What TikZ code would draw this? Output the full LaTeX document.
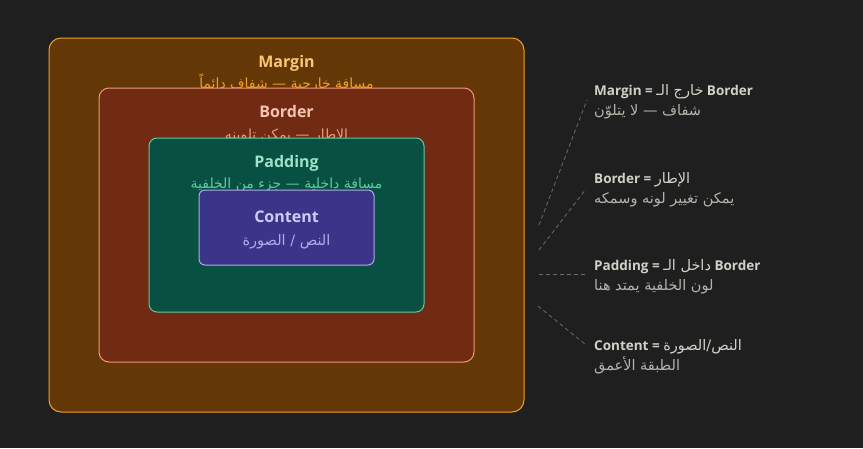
\documentclass[tikz,border=0pt]{standalone}
\usepackage{fontspec}
\setmainfont{Open Sans}
\newfontfamily\arabicfont[Script=Arabic]{DejaVu Sans}
\TeXXeTstate=1
\newcommand{\artext}[1]{{\arabicfont\beginR #1\endR}}
\definecolor{bg}{HTML}{1F1F1F}
\definecolor{mfill}{HTML}{633806}\definecolor{mline}{HTML}{EF9F27}\definecolor{mtitle}{HTML}{FAC775}
\definecolor{bfill}{HTML}{712B13}\definecolor{bline}{HTML}{F0997B}\definecolor{btitle}{HTML}{F5C4B3}
\definecolor{pfill}{HTML}{085041}\definecolor{pline}{HTML}{5DCAA5}\definecolor{ptitle}{HTML}{9FE1CB}
\definecolor{cfill}{HTML}{3C3489}\definecolor{cline}{HTML}{AFA9EC}\definecolor{ctitle}{HTML}{CECBF6}
\definecolor{lblone}{HTML}{D3D1C7}\definecolor{lbltwo}{HTML}{B4B2A9}\definecolor{dashc}{HTML}{6B6A66}
\tikzset{
  layer/.style={rectangle, draw, line width=1pt, inner sep=0pt},
  ttl/.style={anchor=base, inner sep=0pt, font=\fontsize{16}{19}\selectfont\bfseries},
  sub/.style={anchor=base, inner sep=0pt, font=\fontsize{14}{17}\selectfont},
  lab/.style={anchor=base west, inner sep=0pt, font=\fontsize{13.5}{16}\selectfont, text=lblone},
  labtwo/.style={anchor=base west, inner sep=0pt, font=\fontsize{14.5}{17}\selectfont, text=lbltwo},
  leader/.style={draw=dashc, line width=0.8pt, dash pattern=on 4pt off 3pt},
}
\begin{document}
\begin{tikzpicture}[x=1pt,y=-1pt]
\path[fill=bg,use as bounding box] (0,0) rectangle (863,448);
% margin
\node[layer, draw=mline, fill=mfill, rounded corners=12pt, minimum width=475pt, minimum height=374pt] (margin) at (286.5,225) {};
\node[ttl, text=mtitle] (mt) at (286.5,67.5) {Margin};
\node[sub, text=mline] (ms) at (286.5,88.5) {\artext{مسافة خارجية — شفاف دائماً}};
% border
\node[layer, draw=bline, fill=bfill, rounded corners=10pt, minimum width=375pt, minimum height=274pt] (border) at (286.5,225) {};
\node[ttl, text=btitle] (bt) at (286.5,117.5) {Border};
\node[sub, text=bline] (bs) at (286.5,139.5) {\artext{الإطار — يمكن تلوينه}};
% padding
\node[layer, draw=pline, fill=pfill, rounded corners=8pt, minimum width=275pt, minimum height=174pt] (padding) at (286.5,225) {};
\node[ttl, text=ptitle] (pt) at (286.5,167.5) {Padding};
\node[sub, text=pline] (ps) at (286.5,188.5) {\artext{مسافة داخلية — جزء من الخلفية}};
% content
\node[layer, draw=cline, fill=cfill, rounded corners=6pt, minimum width=175pt, minimum height=75pt] (content) at (286.5,227.5) {};
\node[ttl, text=ctitle] (ct) at (286.5,222.5) {Content};
\node[sub, text=cline, font=\fontsize{14.5}{17}\selectfont] (cs) at (286.5,245) {\artext{النص / الصورة}};
% right labels
\node[lab] (l1a) at (594,95) {\textbf{Margin =} {\fontsize{14.5}{17}\selectfont\artext{خارج الـ}} \textbf{Border}};
\node[labtwo] (l1b) at (594,115) {\artext{شفاف — لا يتلوّن}};
\node[lab] (l2a) at (594,183) {\textbf{Border =} {\fontsize{14.5}{17}\selectfont\artext{الإطار}}};
\node[labtwo] (l2b) at (594,203) {\artext{يمكن تغيير لونه وسمكه}};
\node[lab] (l3a) at (594,270) {\textbf{Padding =} {\fontsize{14.5}{17}\selectfont\artext{داخل الـ}} \textbf{Border}};
\node[labtwo] (l3b) at (594,290) {\artext{لون الخلفية يمتد هنا}};
\node[lab] (l4a) at (594,350) {\textbf{Content =} {\fontsize{14.5}{17}\selectfont\artext{النص/الصورة}}};
\node[labtwo] (l4b) at (594,370) {\artext{الطبقة الأعمق}};
% leaders
\coordinate (d1s) at (539,225); \coordinate (d1e) at (587,100);
\coordinate (d2s) at (539,250); \coordinate (d2e) at (586,189);
\coordinate (d3s) at (539,274); \coordinate (d3e) at (587,274);
\coordinate (d4s) at (538,306); \coordinate (d4e) at (586,345);
\draw[leader] (d1s) -- (d1e);
\draw[leader] (d2s) -- (d2e);
\draw[leader] (d3s) -- (d3e);
\draw[leader] (d4s) -- (d4e);
\end{tikzpicture}
\end{document}
